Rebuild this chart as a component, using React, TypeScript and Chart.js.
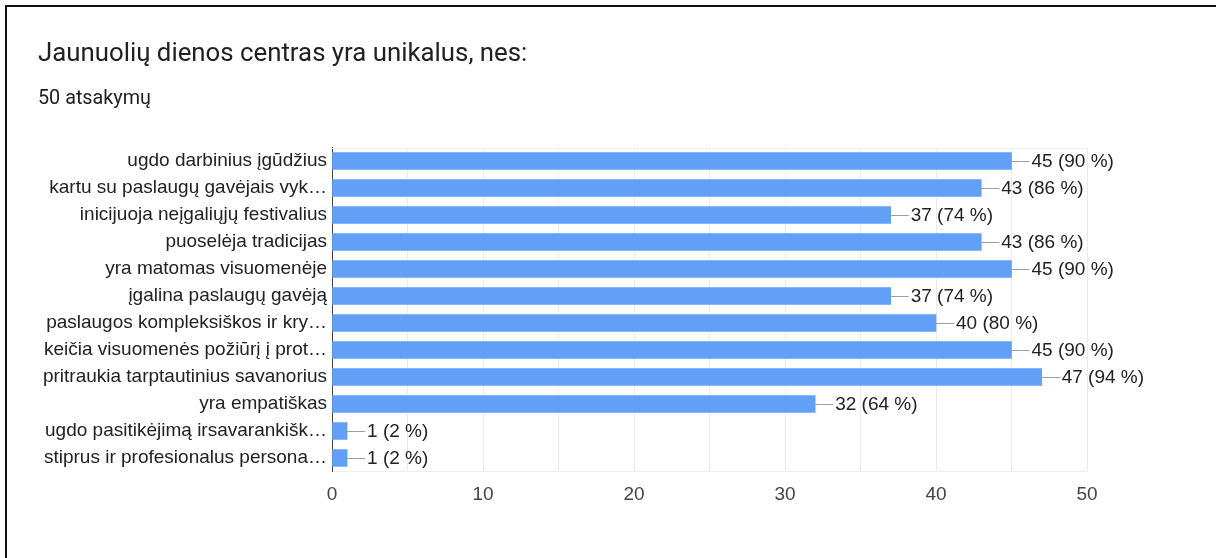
import React, { useEffect, useRef } from "react";
import { Chart, registerables } from "chart.js";

Chart.register(...registerables);

const categories = [
  "ugdo darbinius įgūdžius",
  "kartu su paslaugų gavėjais vyk…",
  "inicijuoja neįgaliųjų festivalius",
  "puoselėja tradicijas",
  "yra matomas visuomenėje",
  "įgalina paslaugų gavėją",
  "paslaugos kompleksiškos ir kry…",
  "keičia visuomenės požiūrį į prot…",
  "pritraukia tarptautinius savanorius",
  "yra empatiškas",
  "ugdo pasitikėjimą irsavarankišk…",
  "stiprus ir profesionalus persona…",
];
const counts = [45, 43, 37, 43, 45, 37, 40, 45, 47, 32, 1, 1];
const percents = [90, 86, 74, 86, 90, 74, 80, 90, 94, 64, 2, 2];
const xTickLabels = [0, 10, 20, 30, 40, 50];

const titleText = "Jaunuolių dienos centras yra unikalus, nes:";
const subtitleText = "50 atsakymų";

const FONT = "'Liberation Sans', Arial, sans-serif";

const valueLabelPlugin = {
  id: "valueLabels",
  afterDatasetsDraw(chart: any) {
    const ctx = chart.ctx;
    const meta = chart.getDatasetMeta(0);
    ctx.save();
    meta.data.forEach((el: any, i: number) => {
      const x = el.x;
      const y = Math.round(el.y) + 0.5;
      ctx.strokeStyle = "#9e9e9e";
      ctx.lineWidth = 1;
      ctx.beginPath();
      ctx.moveTo(x, y);
      ctx.lineTo(x + 18, y);
      ctx.stroke();
      ctx.fillStyle = "#222222";
      ctx.font = `19px ${FONT}`;
      ctx.textAlign = "left";
      ctx.textBaseline = "middle";
      ctx.fillText(`${counts[i]} (${percents[i]} %)`, x + 20, el.y + 1);
    });
    ctx.restore();
  },
  beforeDatasetsDraw(chart: any) {
    const { ctx, chartArea } = chart;
    ctx.save();
    ctx.strokeStyle = "#f0f0f0";
    ctx.lineWidth = 1;
    ctx.beginPath();
    ctx.moveTo(chartArea.left, Math.round(chartArea.top) + 0.5);
    ctx.lineTo(chartArea.right, Math.round(chartArea.top) + 0.5);
    ctx.stroke();
    ctx.restore();
  },
};

export default function App() {
  const ref = useRef<HTMLCanvasElement | null>(null);

  useEffect(() => {
    if (!ref.current) return;
    const chart = new Chart(ref.current, {
      type: "bar",
      data: {
        labels: categories,
        datasets: [
          {
            data: counts,
            backgroundColor: "#62a0f8",
            borderWidth: 0,
            barThickness: 17,
          },
        ],
      },
      options: {
        indexAxis: "y",
        responsive: false,
        animation: false,
        layout: { padding: { left: 0, right: 129, top: 147.5, bottom: 46.5 } },
        plugins: {
          legend: { display: false },
          tooltip: { enabled: false },
          title: { display: false },
        },
        scales: {
          x: {
            min: 0,
            max: 50,
            afterFit(scale: any) {
              scale.height = 40;
            },
            afterBuildTicks(scale: any) {
              const t: any[] = [];
              for (let v = 0; v <= 50; v += 5) t.push({ value: v });
              scale.ticks = t;
            },
            ticks: {
              padding: 12,
              color: "#444444",
              font: { family: FONT, size: 19 },
              maxRotation: 0,
              autoSkip: false,
              callback: (v: any) => (xTickLabels.includes(Number(v)) ? String(v) : ""),
            },
            grid: { color: "#ebebeb", drawTicks: false },
            border: { display: true, color: "#eeeeee" },
          },
          y: {
            afterFit(scale: any) {
              scale.width = 332;
            },
            ticks: {
              padding: 5,
              color: "#222222",
              font: { family: FONT, size: 19 },
              autoSkip: false,
            },
            grid: { display: false, drawTicks: false },
            border: { display: true, color: "#444444", width: 1 },
          },
        },
      },
      plugins: [valueLabelPlugin],
    });
    return () => chart.destroy();
  }, []);

  return (
    <div
      style={{
        position: "fixed",
        left: 0,
        top: 0,
        width: 1216,
        height: 558,
        background: "#ffffff",
        overflow: "hidden",
      }}
    >
      <div
        style={{
          position: "absolute",
          left: 5,
          top: 5,
          width: 1216,
          height: 558,
          borderTop: "2px solid #111",
          borderLeft: "2px solid #111",
        }}
      />
      <canvas
        ref={ref}
        width={1216}
        height={558}
        style={{ position: "absolute", left: 0, top: 0 }}
      />
      <div
        style={{
          position: "absolute",
          left: 38,
          top: 38,
          fontFamily: "Roboto, sans-serif",
          fontSize: 25.8,
          lineHeight: "28px",
          color: "#202124",
          whiteSpace: "nowrap",
        }}
      >
        {titleText}
      </div>
      <div
        style={{
          position: "absolute",
          left: 38,
          top: 87,
          fontFamily: "Roboto, sans-serif",
          fontSize: 19.8,
          lineHeight: "22px",
          color: "#202124",
          whiteSpace: "nowrap",
        }}
      >
        {subtitleText}
      </div>
    </div>
  );
}
